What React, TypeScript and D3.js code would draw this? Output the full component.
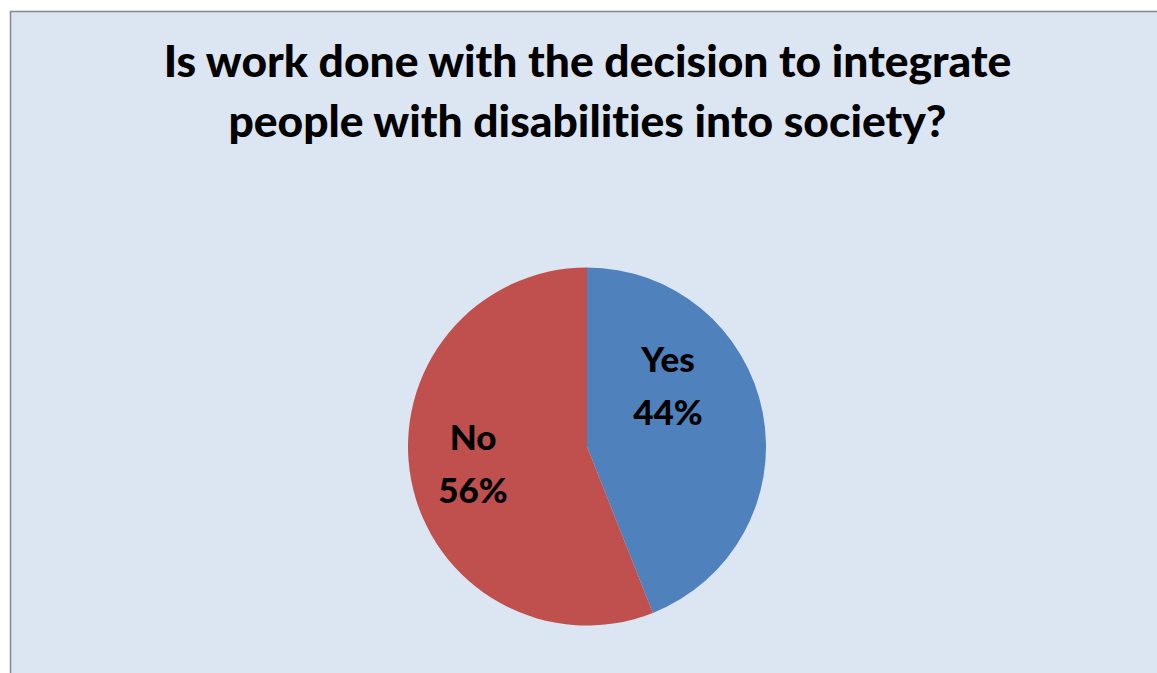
import React from "react";
import * as d3 from "d3";

const categories = ["Yes", "No"];
const values = [44, 56];
const colors = ["#4F81BD", "#C0504D"];
const titleLines = [
  "Is work done with the decision to integrate",
  "people with disabilities into society?",
];

// layout: label anchor (center x offset, first baseline offset) relative to pie centre
const labelOffsets: [number, number][] = [
  [81, -74.5],
  [-114, 3.5],
];

export default function App() {
  const W = 1157;
  const H = 673;
  const cx = 587;
  const cy = 446.5;
  const r = 179;
  const pie = d3
    .pie<number>()
    .sort(null)
    .value((d) => d)
    .startAngle(0)
    .endAngle(2 * Math.PI);
  const arcs = pie(values);
  const arc = d3.arc<d3.PieArcDatum<number>>().innerRadius(0).outerRadius(r);
  const total = d3.sum(values);
  const font = "Lato, 'Open Sans', sans-serif";
  return (
    <svg
      width={W}
      height={H}
      style={{ position: "absolute", left: 0, top: 0, background: "#ffffff", fontVariantLigatures: "none" }}
    >
      <rect x={10.5} y={11.5} width={W + 10} height={H + 10} fill="#DCE6F2" stroke="#888888" strokeWidth={1.5} />
      {titleLines.map((t, i) => (
        <text
          key={i}
          x={587.5}
          y={77 + i * 60}
          textAnchor="middle"
          fontFamily={font}
          fontWeight={900}
          fontSize={44.4}
          fill="#000"
          style={{ fontVariantLigatures: "none" }}
        >
          {t}
        </text>
      ))}
      <g transform={`translate(${cx},${cy})`}>
        {arcs.map((a, i) => (
          <path key={i} d={arc(a) || ""} fill={colors[i]} />
        ))}
        {arcs.map((a, i) => {
          const [lx, ly] = labelOffsets[i];
          return (
            <text
              key={"l" + i}
              textAnchor="middle"
              fontFamily={font}
              fontWeight={900}
              fontSize={35}
              fill="#000"
            >
              <tspan x={lx} y={ly}>{categories[i]}</tspan>
              <tspan x={lx} y={ly + 53}>{Math.round((values[i] / total) * 100) + "%"}</tspan>
            </text>
          );
        })}
      </g>
    </svg>
  );
}
